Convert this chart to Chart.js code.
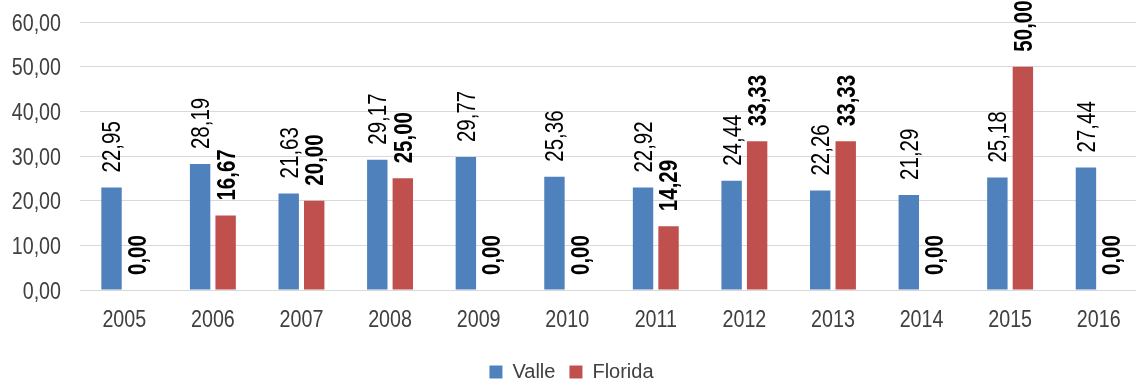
<!DOCTYPE html>
<html>
<head>
<meta charset="utf-8">
<script src="https://cdn.jsdelivr.net/npm/chart.js@4"></script>
<style>
  html, body { margin: 0; padding: 0; background: #fff; overflow: hidden; }
  #wrap { position: relative; width: 1146px; height: 381px; }
</style>
</head>
<body>
<div id="wrap"><canvas id="chart"></canvas></div>
<script>
const years = ['2005', '2006', '2007', '2008', '2009', '2010', '2011', '2012', '2013', '2014', '2015', '2016'];
const valle = [22.95, 28.19, 21.63, 29.17, 29.77, 25.36, 22.92, 24.44, 22.26, 21.29, 25.18, 27.44];
const florida = [0, 16.67, 20, 25, 0, 0, 14.29, 33.33, 33.33, 0, 50, 0];
const yMin = 0, yMax = 60, yStep = 10;

const FONT = "'Liberation Sans', Arial, sans-serif";
const NARROW = 0.82;   // squeeze text horizontally, narrow face look
const TEXT = '#404040';

function fmt(v) {
    return v.toFixed(2).replace('.', ',');
}

function narrowText(ctx, str, x, y, size, opts) {
    ctx.save();
    ctx.translate(x, y);
    if (opts.rotate) ctx.rotate(opts.rotate);
    ctx.scale(NARROW, 1);
    ctx.font = (opts.bold ? 'bold ' : '') + size + 'px ' + FONT;
    ctx.fillStyle = opts.color;
    ctx.textAlign = opts.align;
    ctx.textBaseline = 'alphabetic';
    // shift so the digits sit centred on the anchor point
    ctx.fillText(str, 0, size * 0.358);
    ctx.restore();
}

// axis labels drawn from the scales, plus values written above each bar
const axisAndBarLabels = {
    id: 'axisAndBarLabels',
    afterDraw(chart) {
        const ctx = chart.ctx;
        const xs = chart.scales.x, ys = chart.scales.y;

        ys.ticks.forEach(t => {
            narrowText(ctx, fmt(t.value), 61, ys.getPixelForValue(t.value), 24, { align: 'right', color: TEXT });
        });
        years.forEach((lab, i) => {
            narrowText(ctx, lab, xs.getPixelForTick(i), 318, 24, { align: 'center', color: TEXT });
        });

        chart.data.datasets.forEach((ds, di) => {
            const meta = chart.getDatasetMeta(di);
            meta.data.forEach((bar, i) => {
                narrowText(ctx, fmt(ds.data[i]), bar.x, bar.y - 15, 25, {
                    align: 'left', rotate: -Math.PI / 2, bold: di == 1, color: '#000'
                });
            });
        });
    }
};

const ctx = document.getElementById('chart').getContext('2d');
const myChart = new Chart(ctx, {
    type: 'bar',
    data: {
        labels: years,
        datasets: [
            {
                label: 'Valle',
                data: valle,
                backgroundColor: '#4F81BD',
                categoryPercentage: 0.576,
                barPercentage: 0.8
            },
            {
                label: 'Florida',
                data: florida,
                backgroundColor: '#C0504D',
                categoryPercentage: 0.576,
                barPercentage: 0.8
            }
        ]
    },
    options: {
        responsive: true,
        maintainAspectRatio: false,
        animation: false,
        layout: { padding: { top: 22, right: 3, left: 0, bottom: -11 } },
        plugins: {
            tooltip: { enabled: false },
            legend: {
                position: 'bottom',
                labels: {
                    boxWidth: 13,
                    boxHeight: 13,
                    padding: 14,
                    color: TEXT,
                    font: { family: FONT, size: 20 }
                }
            }
        },
        scales: {
            x: {
                grid: { display: false },
                border: { display: false },
                ticks: { display: false },
                afterFit: scale => { scale.height = 58; }
            },
            y: {
                min: yMin,
                max: yMax,
                grid: { color: '#D9D9D9', lineWidth: 1, drawTicks: false },
                border: { display: false },
                afterFit: scale => { scale.width = 80; },
                ticks: { stepSize: yStep, display: false }
            }
        }
    },
    plugins: [axisAndBarLabels]
});
</script>
</body>
</html>
